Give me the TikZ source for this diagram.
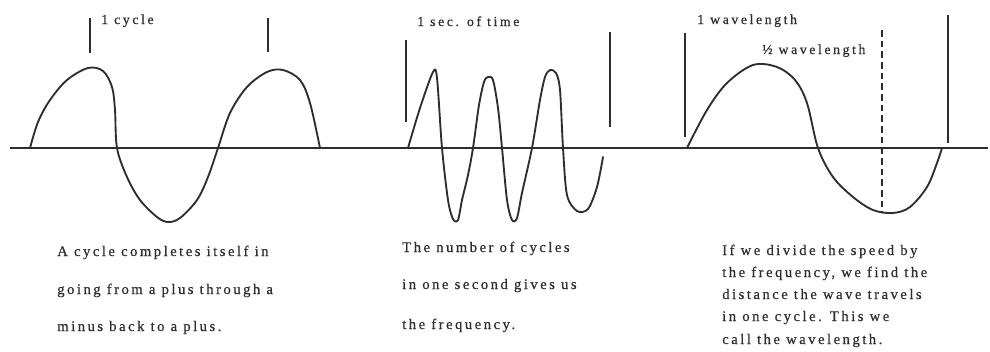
\documentclass[tikz,border=0pt]{standalone}
\usepackage{fontspec}
\setmainfont{Liberation Serif}
\newfontfamily\capfont[LetterSpace=17,FakeBold=0.6]{Liberation Serif}
\newfontfamily\labfont[LetterSpace=19,FakeBold=0.6]{Liberation Serif}
\newfontfamily\halffont[FakeBold=0.6]{Liberation Serif}
\definecolor{ink}{HTML}{2E2E2E}
\begin{document}
\begin{tikzpicture}[x=0.75pt,y=-0.75pt,
  wave/.style={draw=ink,line width=1.4pt,line cap=round,line join=round},
  axisline/.style={draw=ink,line width=1.3pt},
  marker/.style={draw=ink,line width=1.1pt},
  caption/.style={anchor=base west,inner sep=0pt,text=ink,font=\capfont\fontsize{11}{13}\selectfont},
  lab/.style={anchor=base west,inner sep=0pt,text=ink,font=\labfont\fontsize{10.3}{12}\selectfont}]
\useasboundingbox (0,0) rectangle (990,351);
% axis
\coordinate (axL) at (10,148);
\coordinate (axR) at (988,148);
\draw[axisline] (axL) -- (axR);
% wave 1
\draw[wave] plot[smooth,tension=0.55] coordinates {(30,148) (38,122) (50,100) (67,80) (88,68) (103,71) (112,87) (115,110) (117,148) (127,177) (140,200) (157,217) (168,222) (180,218) (197,200) (208,177) (218,148) (230,113) (247,87) (267,72) (283,70) (300,80) (310,103) (320,148)};
\coordinate (m1a) at (90,18); \coordinate (m1b) at (90,53);
\coordinate (m2a) at (268,18); \coordinate (m2b) at (268,52);
\draw[marker] (m1a) -- (m1b);
\draw[marker] (m2a) -- (m2b);
\node[lab] (l1) at (101,24) {1 cycle};
% wave 2
\draw[wave] plot[smooth,tension=0.5] coordinates {(408,148) (420,108) (433,72) (437,78) (442,148) (448,200) (453,219) (458,220) (462,200) (468,175) (473,148) (479,105) (484,82) (488,77) (493,80) (498,108) (502,148) (507,200) (512,220) (517,218) (522,193) (532,148) (540,100) (545,77) (550,70) (556,73) (560,90) (563,148) (567,195) (577,211) (588,209) (597,187) (603,157)};
\coordinate (m3a) at (406,40); \coordinate (m3b) at (406,122);
\coordinate (m4a) at (610,32); \coordinate (m4b) at (610,127);
\draw[marker] (m3a) -- (m3b);
\draw[marker] (m4a) -- (m4b);
\node[lab] (l2) at (417,26) {1 sec. of time};
% wave 3
\draw[wave] plot[smooth,tension=0.55] coordinates {(687,148) (707,110) (727,83) (753,65) (777,67) (795,80) (807,103) (818,148) (833,177) (853,197) (873,210) (893,213) (910,207) (927,187) (937,163) (942,148)};
\coordinate (m5a) at (685,33); \coordinate (m5b) at (685,137);
\coordinate (m6a) at (948,15); \coordinate (m6b) at (948,143);
\coordinate (m7a) at (882,30); \coordinate (m7b) at (882,213);
\draw[marker] (m5a) -- (m5b);
\draw[marker] (m6a) -- (m6b);
\draw[marker,dashed,dash pattern=on 5pt off 3pt] (m7a) -- (m7b);
\node[lab] (l3) at (697,24) {1 wavelength};
\node[lab] (l4) at (762,54) {{\halffont\fontsize{10.3}{12}\selectfont ½} wavelength};
% captions
\node[caption] (c1a) at (57,256) {A cycle completes itself in};
\node[caption] (c1b) at (57,294) {going from a plus through a};
\node[caption] (c1c) at (57,331) {minus back to a plus.};
\node[caption] (c2a) at (402,252) {The number of cycles};
\node[caption] (c2b) at (402,289) {in one second gives us};
\node[caption] (c2c) at (402,329) {the frequency.};
\node[caption] (c3a) at (722,255) {If we divide the speed by};
\node[caption] (c3b) at (722,277) {the frequency, we find the};
\node[caption] (c3c) at (722,299) {distance the wave travels};
\node[caption] (c3d) at (722,321) {in one cycle. This we};
\node[caption] (c3e) at (722,344) {call the wavelength.};
\end{tikzpicture}
\end{document}
